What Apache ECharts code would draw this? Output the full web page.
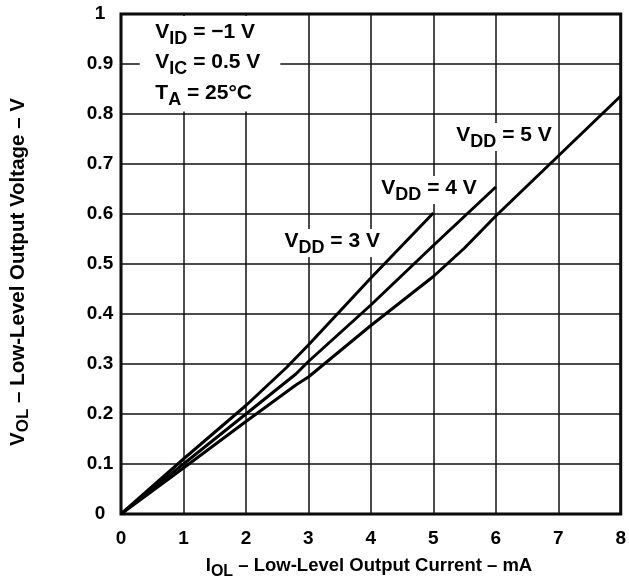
<!DOCTYPE html>
<html>
<head>
<meta charset="utf-8">
<script src="https://cdn.jsdelivr.net/npm/echarts@6/dist/echarts.min.js"></script>
<style>
html, body { margin: 0; padding: 0; background: #fff; }
#echarts { width: 629px; height: 582px; }
</style>
</head>
<body>
<div id="echarts"></div>
<script>
/* data: [I_OL mA, V_OL V] */
var vdd3 = [[0, 0], [1, 0.11], [2, 0.217], [2.65, 0.293], [3, 0.338], [4, 0.472], [5, 0.602]];
var vdd4 = [[0, 0], [1, 0.1], [2, 0.2], [2.8, 0.28], [3, 0.305], [4, 0.418], [5, 0.537], [6, 0.654]];
var vdd5 = [[0, 0], [1, 0.092], [2, 0.185], [2.8, 0.258], [3, 0.274], [4, 0.377], [5, 0.475], [5.5, 0.532], [6, 0.596], [7, 0.716], [8, 0.836]];
var seriesNames = ['VDD = 3 V', 'VDD = 4 V', 'VDD = 5 V'];
var xRange = [0, 8];
var yRange = [0, 1];

/* curve labels: [vdd, left x, centre y] in data units */
var curveLabels = [
    ['3', 2.57, 0.542],
    ['4', 4.12, 0.648],
    ['5', 5.32, 0.754]
];

var FONT = '"Liberation Sans", Arial, Helvetica, sans-serif';
var myChart = echarts.init(document.getElementById('echarts'));

function lineSeries(name, data) {
    return {
        name: name,
        type: 'line',
        data: data,
        showSymbol: false,
        z: 10,
        lineStyle: { color: '#000', width: 3 }
    };
}

var option = {
    animation: false,
    backgroundColor: '#fff',
    grid: {
        left: 121, right: 7, top: 14, bottom: 68,
        show: true, borderColor: '#000', borderWidth: 3
    },
    xAxis: {
        type: 'value', min: xRange[0], max: xRange[1], interval: 1,
        axisLine: { show: false },
        axisTick: { show: false },
        axisLabel: { margin: 15, color: '#000', fontSize: 19, fontWeight: 'bold', fontFamily: FONT },
        splitLine: { show: true, lineStyle: { color: '#111', width: 1.5 } }
    },
    yAxis: {
        type: 'value', min: yRange[0], max: yRange[1], interval: 0.1,
        axisLine: { show: false },
        axisTick: { show: false },
        axisLabel: {
            margin: 21, align: 'center', color: '#000', fontSize: 19, fontWeight: 'bold', fontFamily: FONT,
            formatter: function (v) { return +v.toFixed(1) + ''; }
        },
        splitLine: { show: true, lineStyle: { color: '#111', width: 1.5 } }
    },
    series: [
        lineSeries(seriesNames[0], vdd3),
        lineSeries(seriesNames[1], vdd4),
        lineSeries(seriesNames[2], vdd5)
    ]
};
myChart.setOption(option);

/* 文字：下标用 rich */
function richStyle(size, sub, drop) {
    return {
        b: { fontSize: size, fontWeight: 'bold', fontFamily: FONT, fill: '#000', verticalAlign: 'top' },
        s: { fontSize: sub, fontWeight: 'bold', fontFamily: FONT, fill: '#000', verticalAlign: 'top', padding: [drop, 0, 0, 0] }
    };
}

function px(x, y) {
    return myChart.convertToPixel({ gridIndex: 0 }, [x, y]);
}

var graphics = [];
curveLabels.forEach(function (c) {
    var p = px(c[1], c[2]);
    graphics.push({
        type: 'text', z: 5,
        x: p[0], y: p[1],
        style: {
            text: '{b|V}{s|DD}{b| = ' + c[0] + ' V}',
            rich: richStyle(21, 18, 8),
            textAlign: 'left', textVerticalAlign: 'middle',
            backgroundColor: '#fff', padding: [2, 3, 0, 3]
        }
    });
});

/* conditions box */
var b0 = px(0.3, 1), b1 = px(2.55, 0.805);
graphics.push({
    type: 'rect', z: 4,
    shape: { x: b0[0], y: b0[1] + 2, width: b1[0] - b0[0], height: b1[1] - b0[1] - 2 },
    style: { fill: '#fff' }
});
var conds = [
    ['{b|V}{s|ID}{b| = \u22121 V}', 0.958],
    ['{b|V}{s|IC}{b| = 0.5 V}', 0.898],
    ['{b|T}{s|A}{b| = 25\u00b0C}', 0.836]
];
conds.forEach(function (c) {
    var p = px(0.55, c[1]);
    graphics.push({
        type: 'text', z: 5, x: p[0], y: p[1],
        style: { text: c[0], rich: richStyle(21, 18, 8), textAlign: 'left', textVerticalAlign: 'middle' }
    });
});

/* axis titles */
graphics.push({
    type: 'text', z: 5, x: 369, y: 568,
    style: {
        text: '{b|I}{s|OL}{b| \u2013 Low-Level Output Current \u2013 mA}',
        rich: richStyle(18.5, 16, 7), textAlign: 'center', textVerticalAlign: 'middle'
    }
});
graphics.push({
    type: 'text', z: 5, x: 20, y: 272, rotation: Math.PI / 2,
    style: {
        text: '{b|V}{s|OL}{b| \u2013 Low-Level Output Voltage \u2013 V}',
        rich: richStyle(20.5, 17, 7), textAlign: 'center', textVerticalAlign: 'middle'
    }
});

myChart.setOption({ graphic: graphics });
</script>
</body>
</html>
